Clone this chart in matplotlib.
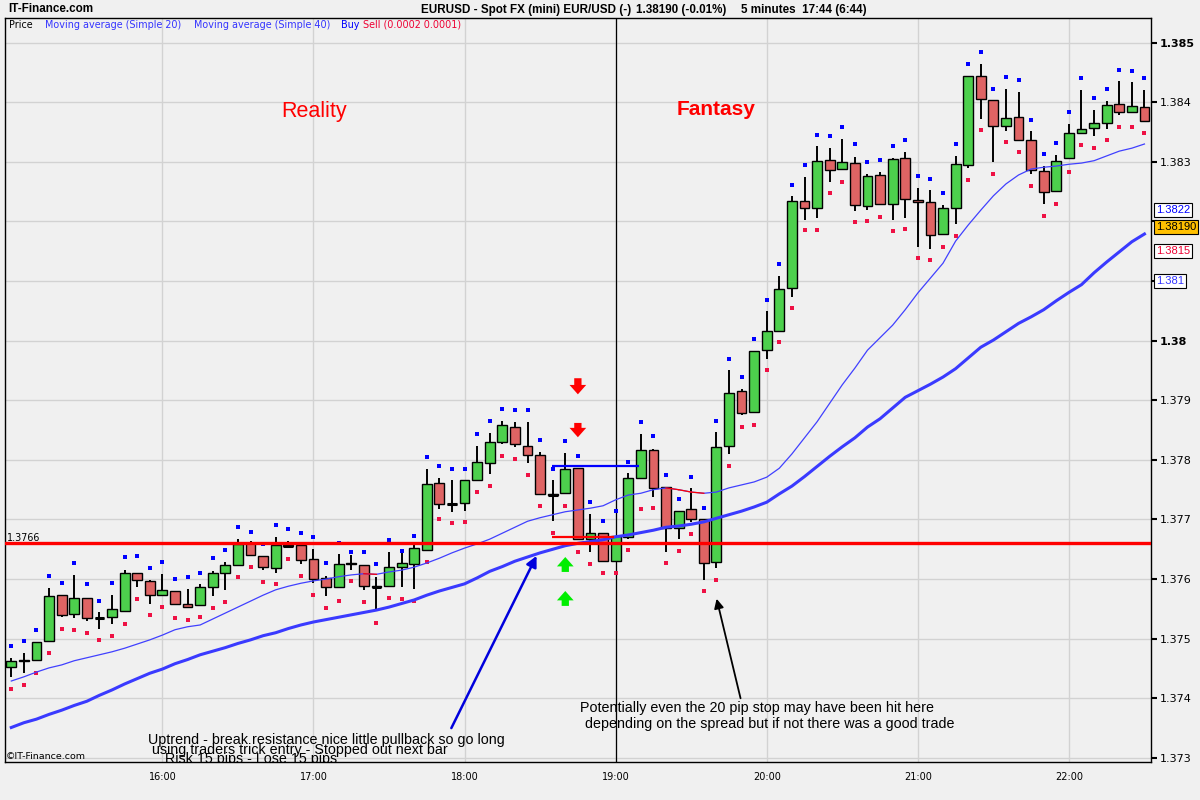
import numpy as np
import matplotlib
matplotlib.use("Agg")
import matplotlib.pyplot as plt
from matplotlib.transforms import blended_transform_factory

# 5-minute EURUSD bars, first bar is 15:00, last is 22:30
HOURS = ["16:00", "17:00", "18:00", "19:00", "20:00", "21:00", "22:00"]
HOUR_BARS = [12, 24, 36, 48, 60, 72, 84]

OPEN = [
    1.37452, 1.37462, 1.37464, 1.37496, 1.37573, 1.37541, 1.37569, 1.37535, 1.37536, 1.37546,
    1.37611, 1.37596, 1.37573, 1.37580, 1.37559, 1.37556, 1.37586, 1.37611, 1.37623, 1.37660,
    1.37638, 1.37618, 1.37657, 1.37657, 1.37633, 1.37601, 1.37586, 1.37625, 1.37623, 1.37588,
    1.37588, 1.37620, 1.37625, 1.37648, 1.37762, 1.37726, 1.37727, 1.37766, 1.37794, 1.37830,
    1.37856, 1.37824, 1.37808, 1.37742, 1.37744, 1.37786, 1.37667, 1.37677, 1.37630, 1.37670,
    1.37769, 1.37816, 1.37754, 1.37685, 1.37717, 1.37700, 1.37628, 1.37823, 1.37915, 1.37880,
    1.37984, 1.38016, 1.38088, 1.38235, 1.38222, 1.38303, 1.38288, 1.38298, 1.38226, 1.38278,
    1.38229, 1.38306, 1.38236, 1.38232, 1.38179, 1.38222, 1.38294, 1.38444, 1.38403, 1.38360,
    1.38375, 1.38336, 1.38284, 1.38251, 1.38306, 1.38348, 1.38357, 1.38366, 1.38397, 1.38383,
    1.38392,
]
HIGH = [
    1.37468, 1.37476, 1.37494, 1.37585, 1.37573, 1.37607, 1.37569, 1.37545, 1.37573, 1.37616,
    1.37611, 1.37598, 1.37609, 1.37580, 1.37583, 1.37591, 1.37613, 1.37628, 1.37668, 1.37664,
    1.37638, 1.37671, 1.37664, 1.37657, 1.37650, 1.37606, 1.37642, 1.37640, 1.37623, 1.37603,
    1.37645, 1.37643, 1.37657, 1.37785, 1.37769, 1.37766, 1.37766, 1.37823, 1.37845, 1.37865,
    1.37863, 1.37863, 1.37813, 1.37766, 1.37811, 1.37786, 1.37710, 1.37677, 1.37672, 1.37778,
    1.37843, 1.37819, 1.37754, 1.37715, 1.37752, 1.37700, 1.37846, 1.37951, 1.37919, 1.37982,
    1.38050, 1.38108, 1.38243, 1.38275, 1.38327, 1.38323, 1.38338, 1.38309, 1.38279, 1.38283,
    1.38306, 1.38317, 1.38256, 1.38253, 1.38227, 1.38310, 1.38444, 1.38464, 1.38403, 1.38422,
    1.38417, 1.38352, 1.38293, 1.38311, 1.38363, 1.38421, 1.38387, 1.38402, 1.38435, 1.38434,
    1.38420,
]
LOW = [
    1.37435, 1.37442, 1.37462, 1.37494, 1.37536, 1.37534, 1.37530, 1.37517, 1.37524, 1.37544,
    1.37586, 1.37559, 1.37573, 1.37556, 1.37553, 1.37556, 1.37571, 1.37581, 1.37623, 1.37640,
    1.37615, 1.37611, 1.37654, 1.37625, 1.37593, 1.37571, 1.37585, 1.37616, 1.37581, 1.37549,
    1.37588, 1.37586, 1.37583, 1.37648, 1.37718, 1.37713, 1.37715, 1.37766, 1.37776, 1.37826,
    1.37821, 1.37794, 1.37742, 1.37697, 1.37742, 1.37667, 1.37645, 1.37630, 1.37630, 1.37668,
    1.37769, 1.37738, 1.37646, 1.37667, 1.37695, 1.37599, 1.37618, 1.37810, 1.37875, 1.37878,
    1.37970, 1.38016, 1.38074, 1.38203, 1.38205, 1.38267, 1.38286, 1.38218, 1.38220, 1.38227,
    1.38203, 1.38206, 1.38158, 1.38154, 1.38177, 1.38195, 1.38289, 1.38372, 1.38299, 1.38352,
    1.38336, 1.38279, 1.38229, 1.38249, 1.38304, 1.38348, 1.38343, 1.38355, 1.38378, 1.38383,
    1.38368,
]
CLOSE = [
    1.37462, 1.37465, 1.37494, 1.37571, 1.37540, 1.37569, 1.37534, 1.37535, 1.37549, 1.37611,
    1.37598, 1.37573, 1.37581, 1.37558, 1.37554, 1.37586, 1.37611, 1.37623, 1.37659, 1.37640,
    1.37620, 1.37657, 1.37656, 1.37632, 1.37600, 1.37586, 1.37625, 1.37627, 1.37588, 1.37587,
    1.37620, 1.37627, 1.37652, 1.37759, 1.37726, 1.37726, 1.37766, 1.37796, 1.37830, 1.37858,
    1.37826, 1.37808, 1.37742, 1.37741, 1.37784, 1.37667, 1.37677, 1.37630, 1.37672, 1.37769,
    1.37816, 1.37753, 1.37685, 1.37715, 1.37700, 1.37627, 1.37821, 1.37913, 1.37878, 1.37982,
    1.38016, 1.38086, 1.38235, 1.38222, 1.38301, 1.38286, 1.38299, 1.38228, 1.38276, 1.38229,
    1.38304, 1.38237, 1.38232, 1.38177, 1.38222, 1.38296, 1.38444, 1.38405, 1.38361, 1.38373,
    1.38336, 1.38286, 1.38249, 1.38301, 1.38348, 1.38355, 1.38365, 1.38395, 1.38383, 1.38393,
    1.38368,
]
# buy / sell indicator dots
BUY = [
    1.37487, 1.37496, 1.37515, 1.37605, 1.37593, 1.37627, 1.37591, 1.37564, 1.37593, 1.37637,
    1.37639, 1.37618, 1.37628, 1.37600, 1.37604, 1.37611, 1.37635, 1.37648, 1.37687, 1.37679,
    1.37659, 1.37690, 1.37684, 1.37677, 1.37670, 1.37627, 1.37660, 1.37645, 1.37645, 1.37625,
    1.37665, 1.37647, 1.37672, 1.37804, 1.37789, 1.37785, 1.37785, 1.37843, 1.37865, 1.37885,
    1.37883, 1.37883, 1.37833, 1.37785, 1.37831, 1.37806, 1.37729, 1.37697, 1.37715, 1.37796,
    1.37863, 1.37840, 1.37774, 1.37734, 1.37772, 1.37720, 1.37865, 1.37970, 1.37939, 1.38002,
    1.38069, 1.38128, 1.38261, 1.38294, 1.38345, 1.38343, 1.38358, 1.38330, 1.38299, 1.38303,
    1.38326, 1.38336, 1.38276, 1.38272, 1.38247, 1.38330, 1.38464, 1.38484, 1.38423, 1.38442,
    1.38437, 1.38371, 1.38313, 1.38331, 1.38383, 1.38440, 1.38407, 1.38422, 1.38454, 1.38452,
    1.38440,
]
SELL = [
    1.37415, 1.37423, 1.37442, 1.37476, 1.37517, 1.37514, 1.37509, 1.37497, 1.37504, 1.37524,
    1.37566, 1.37540, 1.37553, 1.37534, 1.37532, 1.37536, 1.37551, 1.37561, 1.37603, 1.37620,
    1.37595, 1.37591, 1.37633, 1.37605, 1.37573, 1.37551, 1.37563, 1.37596, 1.37561, 1.37526,
    1.37568, 1.37566, 1.37564, 1.37628, 1.37700, 1.37694, 1.37695, 1.37746, 1.37756, 1.37806,
    1.37801, 1.37774, 1.37722, 1.37677, 1.37722, 1.37645, 1.37625, 1.37610, 1.37611, 1.37648,
    1.37717, 1.37719, 1.37627, 1.37647, 1.37675, 1.37580, 1.37598, 1.37789, 1.37856, 1.37858,
    1.37950, 1.37997, 1.38054, 1.38185, 1.38185, 1.38247, 1.38266, 1.38199, 1.38200, 1.38207,
    1.38184, 1.38187, 1.38138, 1.38135, 1.38157, 1.38175, 1.38269, 1.38353, 1.38279, 1.38333,
    1.38316, 1.38259, 1.38209, 1.38229, 1.38283, 1.38328, 1.38323, 1.38336, 1.38358, 1.38358,
    1.38348,
]
MA20 = [
    1.37429, 1.37436, 1.37444, 1.37451, 1.37456, 1.37463, 1.37468, 1.37473, 1.37478, 1.37484,
    1.37491, 1.37498, 1.37506, 1.37515, 1.37520, 1.37523, 1.37533, 1.37543, 1.37553, 1.37563,
    1.37573, 1.37582, 1.37588, 1.37593, 1.37597, 1.37600, 1.37604, 1.37607, 1.37609, 1.37608,
    1.37612, 1.37615, 1.37620, 1.37627, 1.37635, 1.37644, 1.37652, 1.37659, 1.37667, 1.37677,
    1.37687, 1.37697, 1.37703, 1.37708, 1.37713, 1.37716, 1.37719, 1.37723, 1.37733, 1.37741,
    1.37744, 1.37750, 1.37753, 1.37750, 1.37746, 1.37744, 1.37746, 1.37753, 1.37758, 1.37763,
    1.37771, 1.37786, 1.37810, 1.37837, 1.37864, 1.37895, 1.37926, 1.37954, 1.37984, 1.38005,
    1.38026, 1.38052, 1.38080, 1.38105, 1.38130, 1.38167, 1.38194, 1.38219, 1.38243, 1.38263,
    1.38278, 1.38288, 1.38291, 1.38293, 1.38296, 1.38298, 1.38302, 1.38310, 1.38318, 1.38323,
    1.38330,
]
MA40 = [
    1.37351, 1.37359, 1.37365, 1.37373, 1.37380, 1.37388, 1.37395, 1.37405, 1.37414, 1.37424,
    1.37433, 1.37442, 1.37449, 1.37458, 1.37465, 1.37473, 1.37479, 1.37485, 1.37492, 1.37498,
    1.37505, 1.37510, 1.37517, 1.37523, 1.37528, 1.37532, 1.37536, 1.37540, 1.37544, 1.37548,
    1.37553, 1.37559, 1.37565, 1.37573, 1.37580, 1.37586, 1.37592, 1.37602, 1.37613, 1.37621,
    1.37630, 1.37637, 1.37644, 1.37650, 1.37656, 1.37660, 1.37663, 1.37666, 1.37671, 1.37674,
    1.37678, 1.37682, 1.37687, 1.37689, 1.37692, 1.37696, 1.37702, 1.37708, 1.37714, 1.37721,
    1.37729, 1.37743, 1.37756, 1.37772, 1.37789, 1.37806, 1.37822, 1.37837, 1.37855, 1.37869,
    1.37887, 1.37905, 1.37916, 1.37927, 1.37939, 1.37953, 1.37971, 1.37989, 1.38001, 1.38015,
    1.38029, 1.38040, 1.38052, 1.38067, 1.38081, 1.38094, 1.38114, 1.38132, 1.38149, 1.38166,
    1.38179,
]

Y_TICKS = [1.373, 1.374, 1.375, 1.376, 1.377, 1.378, 1.379, 1.380, 1.381, 1.382, 1.383, 1.384, 1.385]
Y_LABELS = ["1.373", "1.374", "1.375", "1.376", "1.377", "1.378", "1.379", "1.38",
            "1.381", "1.382", "1.383", "1.384", "1.385"]
BOLD_LABELS = ["1.38", "1.385"]
COVERED_LABELS = ["1.381", "1.382"]   # hidden under the value boxes

RESISTANCE = 1.3766
ENTRY_LEVEL = 1.37789   # blue buy-stop line
STOP_LEVEL = 1.37671    # red stop line
SIDE_LABELS = [("1.3822", "#0000ff", "white"), ("1.38190", "black", "#ffc000"),
               ("1.3815", "#ee0033", "white"), ("1.381", "#3333ff", "white")]

GREEN = "#4dd04d"
RED = "#df6464"
BG = "#f0f0f0"
FW, FH = 1200, 800


def fx(px):
    return px / FW


def fy(py):
    return 1 - py / FH


fig = plt.figure(figsize=(12, 8), dpi=100, facecolor=BG)
ax = fig.add_axes([fx(5), fy(762), fx(1146), 744 / FH], facecolor=BG)

x = np.arange(len(OPEN))
o, h, l, c = (np.array(a) for a in (OPEN, HIGH, LOW, CLOSE))
up = c >= o

ax.vlines(x, l, h, color="black", lw=1.4, zorder=3)
ax.bar(x, np.abs(c - o), bottom=np.minimum(o, c), width=0.78,
       color=np.where(up, GREEN, RED), edgecolor="black", linewidth=1.0, zorder=4)
doji = np.abs(c - o) < 0.00002
ax.hlines(c[doji], x[doji] - 0.39, x[doji] + 0.39, color="black", lw=2.2, zorder=4.5)

ax.scatter(x, BUY, marker="s", s=6, color="#0000ff", lw=0, zorder=5)
ax.scatter(x, SELL, marker="s", s=6, color="#ee1144", lw=0, zorder=5)

ma20 = np.array(MA20)
ax.plot(x, ma20, color="#4040ff", lw=0.9, zorder=6)
for i in range(len(ma20) - 1):
    if ma20[i + 1] < ma20[i]:
        ax.plot(x[i:i + 2], ma20[i:i + 2], color="#ff0000", lw=0.9, zorder=6.5)
ax.plot(x, MA40, color="#3a3aff", lw=2.2, zorder=6)

ax.axhline(RESISTANCE, color="#ff0000", lw=2.4, zorder=7)
ax.axvline(48, color="black", lw=0.9, zorder=2.6)
ax.hlines(ENTRY_LEVEL, 42.96, 49.84, color="#0000ff", lw=1.6, zorder=7)
ax.hlines(STOP_LEVEL, 42.96, 47.9, color="#ff0000", lw=1.6, zorder=7)

# signal arrows (bar, tail, tip, colour)
for bar, tail, tip, col in [(45, 1.37937, 1.37910, "#ff0000"), (45, 1.37862, 1.37838, "#ff0000"),
                            (44, 1.37612, 1.37637, "#00ee00"), (44, 1.37555, 1.37580, "#00ee00")]:
    ax.annotate("", xy=(bar, tip), xytext=(bar, tail),
                arrowprops=dict(arrowstyle="simple,head_length=0.45,head_width=0.8,tail_width=0.35",
                                fc=col, ec="none", shrinkA=0, shrinkB=0, mutation_scale=15),
                zorder=8)

ax.annotate("", xy=(41.72, 1.37639), xytext=(34.95, 1.37350),
            arrowprops=dict(arrowstyle="-|>", color="#0000dd", lw=1.8, mutation_scale=16,
                            shrinkA=0, shrinkB=0), zorder=8)
ax.annotate("", xy=(56.02, 1.37567), xytext=(57.92, 1.37400),
            arrowprops=dict(arrowstyle="-|>", color="black", lw=1.3, mutation_scale=14,
                            shrinkA=0, shrinkB=0), zorder=8)

LIB = ["Liberation Sans", "DejaVu Sans"]
ax.text(21.42, 1.383753, "Reality", color="#ff0000", fontsize=15.5, family=LIB, va="baseline")
ax.text(52.84, 1.383779, "Fantasy", color="#ff0000", fontsize=15, family=LIB,
        fontweight="bold", va="baseline")

ax.text(45.13, 1.37384, "Potentially even the 20 pip stop may have been hit here",
        fontsize=10.3, family=LIB, va="center")
ax.text(45.6, 1.37357, "depending on the spread but if not there was a good trade",
        fontsize=10.3, family=LIB, va="center")
ax.text(10.87, 1.37330, "Uptrend - break resistance nice little pullback so go long",
        fontsize=10.3, family=LIB, va="center", zorder=9)
ax.text(11.14, 1.37313, "using traders trick entry - Stopped out next bar",
        fontsize=10.3, family=LIB, va="center", zorder=9)
ax.text(12.22, 1.37298, "Risk 15 pips - Lose 15 pips",
        fontsize=10.3, family=LIB, va="center", zorder=9, clip_on=True)

ax.text(-0.34, 1.37669, "1.3766", fontsize=6.9, va="center")
ax.text(0.001, 0.008, "\u00a9IT-Finance.com", transform=ax.transAxes, fontsize=6.8,
        va="center", zorder=9)

ax.set_xlim(-0.5, 90.52)
ax.set_ylim(1.372931, 1.385414)
ax.set_xticks(HOUR_BARS, HOURS)
ax.tick_params(axis="x", length=0, labelsize=7, pad=7)
ax.yaxis.tick_right()
ax.set_yticks(Y_TICKS, Y_LABELS)
ax.tick_params(axis="y", length=4, width=1.5, labelsize=8, pad=2)
for lab in ax.get_yticklabels():
    if lab.get_text() in BOLD_LABELS:
        lab.set_fontweight("bold")
    if lab.get_text() in COVERED_LABELS:
        lab.set_visible(False)
ax.grid(color="#d2d2d2", lw=1, zorder=0)
ax.set_axisbelow(True)
for sp in ax.spines.values():
    sp.set_color("black")
    sp.set_linewidth(1)

trans = blended_transform_factory(ax.transAxes, ax.transData)
for text, col, face in SIDE_LABELS:
    ax.text(1.0044, float(text), text, transform=trans, color=col, fontsize=8, family=LIB,
            va="center", ha="left", clip_on=False, zorder=10,
            bbox=dict(boxstyle="square,pad=0.18", fc=face, ec="black", lw=0.8))

# header and legend row
fig.text(fx(8.5), fy(9.5), "IT-Finance.com", fontsize=8.4, family=LIB, fontweight="bold", va="center")
fig.text(fx(421), fy(9.5), "EURUSD - Spot FX (mini) EUR/USD (-)", fontsize=8.4, family=LIB,
         fontweight="bold", va="center")
fig.text(fx(636), fy(9.5), "1.38190 (-0.01%)", fontsize=8.4, family=LIB, fontweight="bold", va="center")
fig.text(fx(741), fy(9.5), "5 minutes  17:44 (6:44)", fontsize=8.4, family=LIB, fontweight="bold",
         va="center")

for px, text, col in [(8.5, "Price", "black"), (45, "Moving average (Simple 20)", "#3333ff"),
                      (193.5, "Moving average (Simple 40)", "#3333ff"), (341.5, "Buy", "#0000ff"),
                      (362.7, "Sell (0.0002 0.0001)", "#ee0033")]:
    fig.text(fx(px), fy(24.5), text, fontsize=6.9, color=col, va="center")

fig.savefig("out.png", dpi=100, facecolor=BG)
